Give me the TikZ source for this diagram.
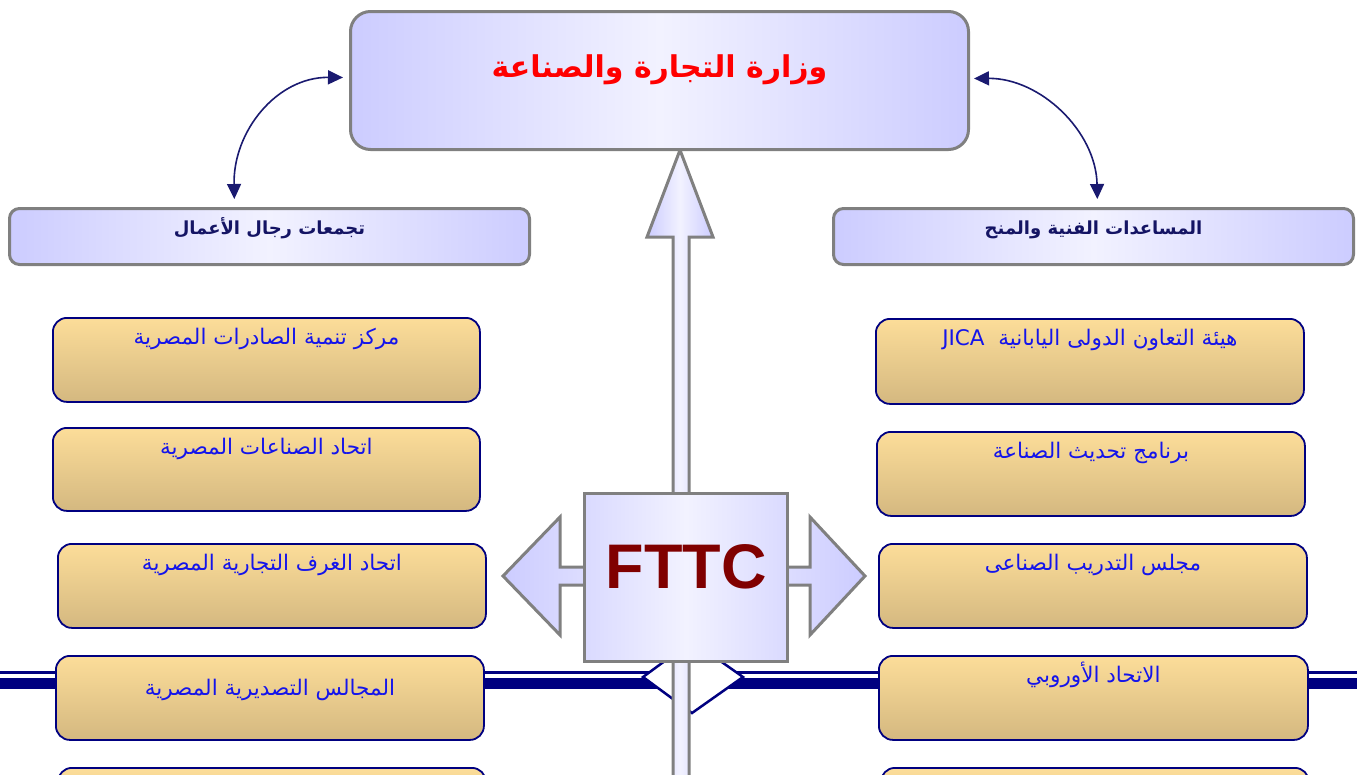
\documentclass[tikz,border=0pt]{standalone}
\usepackage{fontspec}
\newfontfamily\arabicfont[Script=Arabic]{DejaVu Sans}
\newfontfamily\latinfont{Liberation Sans}
\TeXXeTstate=1
\usetikzlibrary{arrows.meta}

\definecolor{lav}{RGB}{204,204,255}
\definecolor{lavmid}{RGB}{218,218,255}
\definecolor{lavlight}{RGB}{242,242,255}
\definecolor{bordergray}{RGB}{128,128,128}
\definecolor{linknavy}{RGB}{26,26,112}
\definecolor{hdnavy}{RGB}{20,20,100}
\definecolor{barnavy}{RGB}{0,0,128}
\definecolor{goldtop}{RGB}{252,221,153}
\definecolor{goldbot}{RGB}{212,184,128}
\definecolor{textblue}{RGB}{20,20,235}
\definecolor{fttcred}{RGB}{128,0,0}

\tikzset{
  panel/.style={draw=bordergray, line width=3pt, left color=lav, right color=lav, middle color=lavlight, inner xsep=0pt, inner ysep=0pt, anchor=north west},
  headbox/.style={panel, rounded corners=10pt, minimum width=520pt, text height=26pt, text depth=30pt, font=\arabicfont\bfseries\fontsize{18}{21}\selectfont, text=hdnavy},
  goldbox/.style={draw=barnavy, line width=1.8pt, rounded corners=14pt, top color=goldtop, bottom color=goldbot, inner xsep=0pt, inner ysep=0pt, anchor=north west, minimum width=428pt, text height=27pt, text depth=57pt, font=\arabicfont\fontsize{21.5}{24}\selectfont, text=textblue},
  link/.style={draw=linknavy, line width=1.6pt, {Triangle[length=15pt,width=14pt]}-{Triangle[length=15pt,width=14pt]}},
  bigarrow/.style={draw=bordergray, line width=3pt, line join=miter, left color=lav, right color=lav, middle color=lavlight}
}

\begin{document}
\begin{tikzpicture}[x=1pt,y=-1pt]
\clip (0,0) rectangle (1357,774);

% double bar behind the boxes
\draw[barnavy, line width=3pt] (0,672.5) -- (1357,672.5);
\draw[barnavy, line width=11pt] (0,683.5) -- (1357,683.5);
\draw[barnavy, line width=2.5pt, fill=white] (643,677) -- (692,641) -- (743,677) -- (692,713) -- cycle;

% up arrow and side arrows
\path[bigarrow] (673,800) -- (673,237) -- (647,237) -- (680,150) -- (713,237) -- (689,237) -- (689,800) -- cycle;
\path[bigarrow] (560,567) -- (560,517) -- (503,576) -- (560,635) -- (560,585) -- (810,585) -- (810,635) -- (865,576) -- (810,517) -- (810,567) -- cycle;

\node[panel, left color=lavmid, right color=lavmid, middle color=lavlight, minimum width=203pt, text height=95pt, text depth=73pt, font=\latinfont\bfseries\fontsize{63}{63}\selectfont, text=fttcred] (fttc) at (583,492) {FTTC};

\node[panel, rounded corners=20pt, minimum width=618pt, text height=66pt, text depth=72pt, font=\arabicfont\bfseries\fontsize{30}{36}\selectfont, text=red] (ministry) at (349,10) {\beginR وزارة التجارة والصناعة\endR};

\node[headbox] (business) at (8,207) {\beginR تجمعات رجال الأعمال\endR};
\node[headbox] (grants) at (832,207) {\beginR المساعدات الفنية والمنح\endR};

\draw[link, shorten <=6pt, shorten >=8pt] ([yshift=3pt]ministry.west) .. controls (277,77) and (233,131) .. ([xshift=-35pt]business.north);
\draw[link, shorten <=4pt, shorten >=8pt] ([yshift=2pt]ministry.east) .. controls (1040,78) and (1096,131) .. ([xshift=4pt]grants.north);

% left column
\node[goldbox, minimum width=427pt] (exports) at (52,317) {\beginR مركز تنمية الصادرات المصرية\endR};
\node[goldbox, minimum width=427pt, text depth=56pt] (industries) at (52,427) {\beginR اتحاد الصناعات المصرية\endR};
\node[goldbox] (chambers) at (57,543) {\beginR اتحاد الغرف التجارية المصرية\endR};
\node[goldbox, text height=40pt, text depth=44pt] (councils) at (55,655) {\beginR المجالس التصديرية المصرية\endR};
\node[goldbox] (leftlast) at (57,767) {};

% right column
\node[goldbox, text depth=58pt] (jica) at (875,318) {\beginR هيئة التعاون الدولى اليابانية\ \ \beginL JICA\endL\endR};
\node[goldbox] (modern) at (876,431) {\beginR برنامج تحديث الصناعة\endR};
\node[goldbox] (training) at (878,543) {\beginR مجلس التدريب الصناعى\endR};
\node[goldbox, minimum width=429pt] (eu) at (878,655) {\beginR الاتحاد الأوروبي\endR};
\node[goldbox] (rightlast) at (880,767) {};
\end{tikzpicture}
\end{document}
